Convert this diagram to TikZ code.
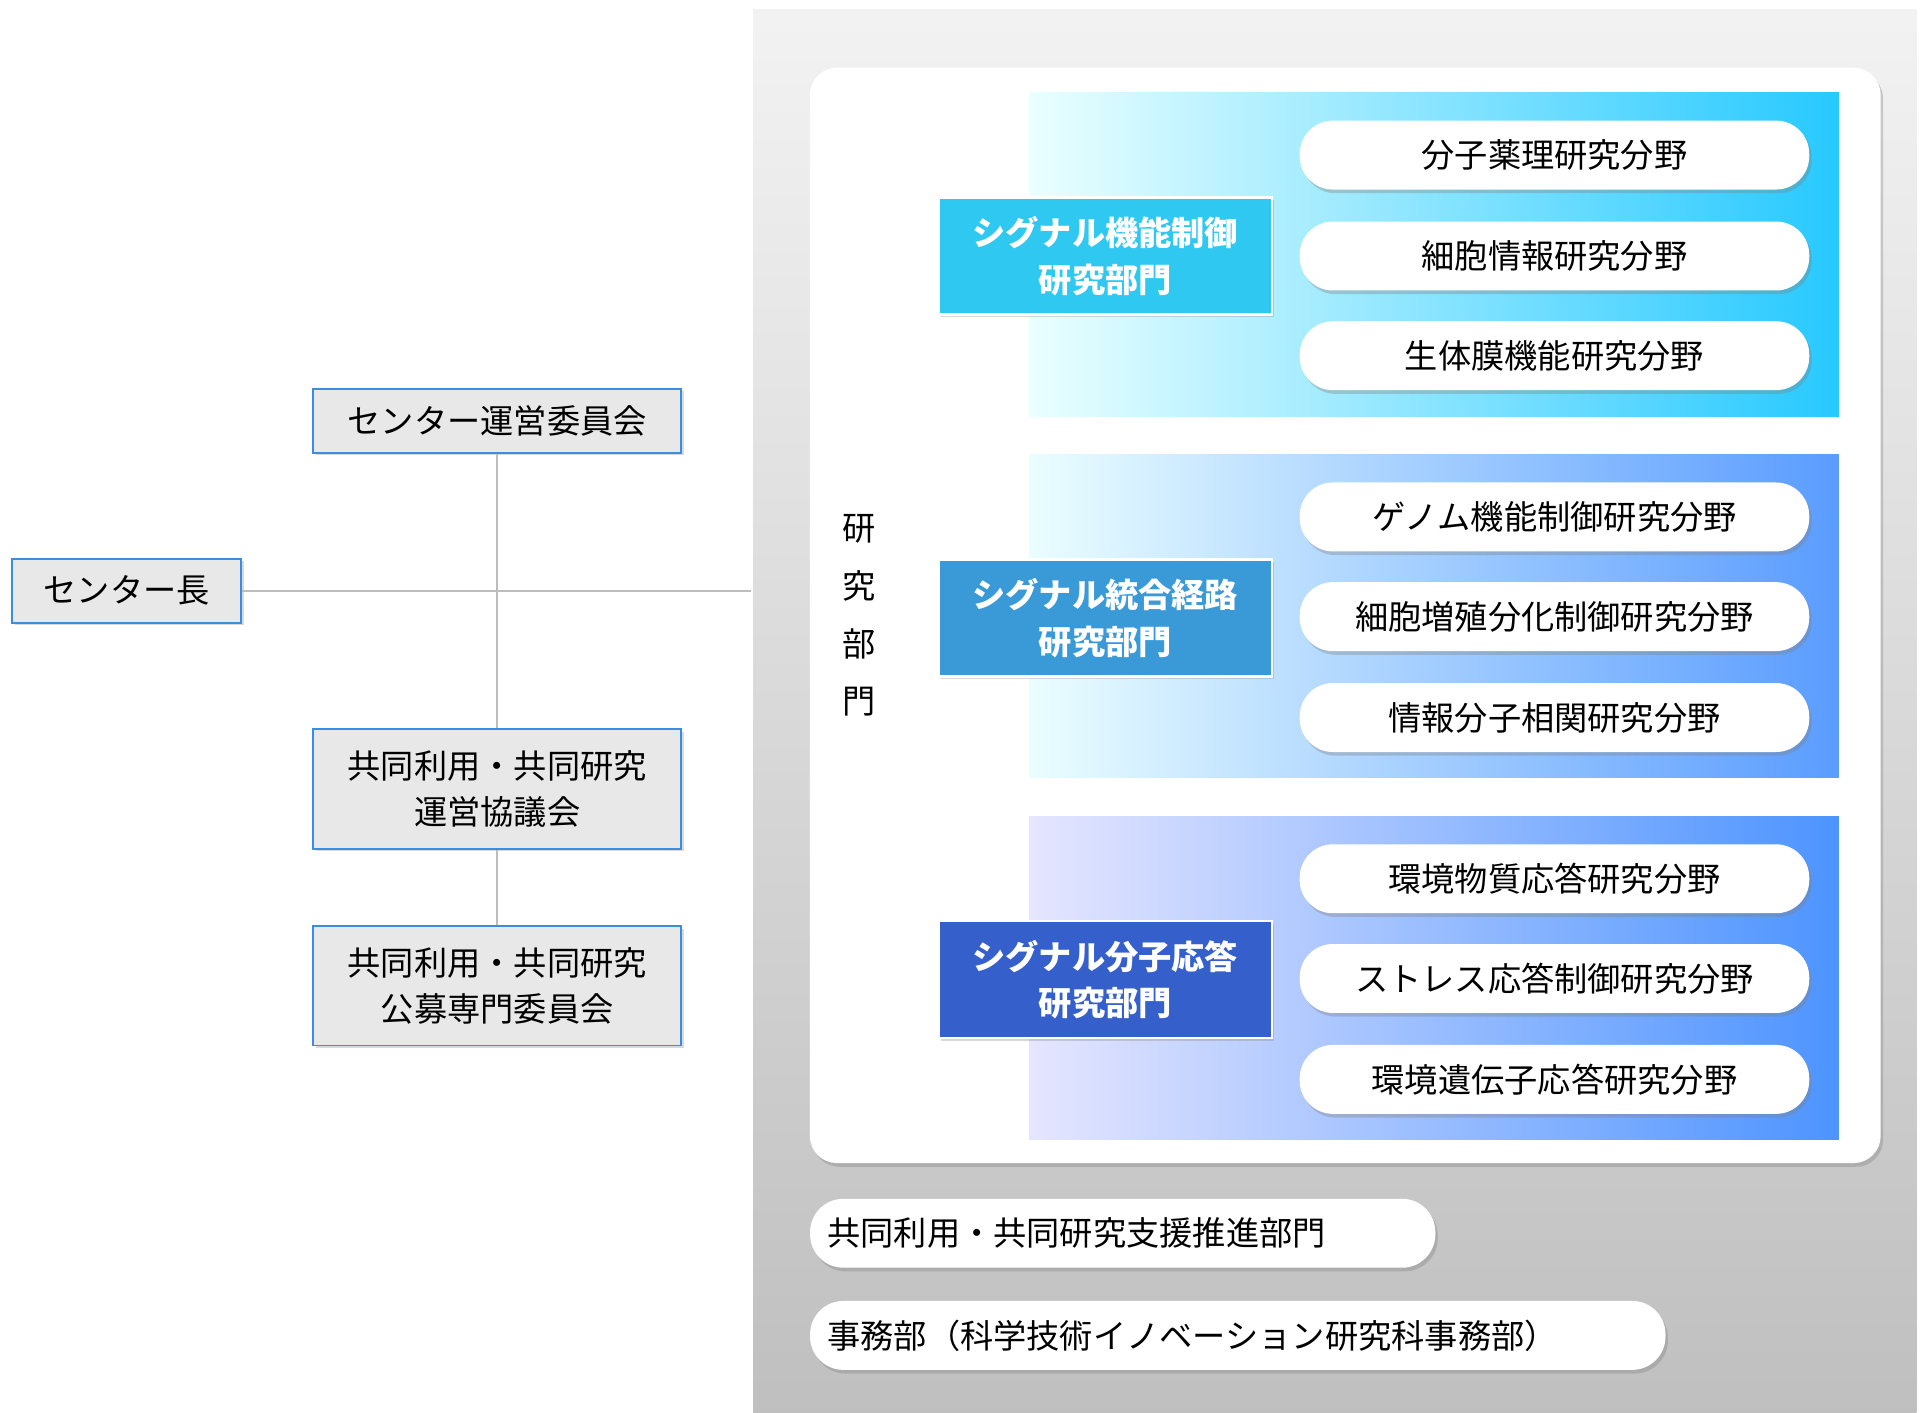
\documentclass[tikz,border=0pt]{standalone}
\usepackage{fontspec}
\setmainfont{Noto Sans CJK JP}
\usetikzlibrary{shadows}
\definecolor{lineg}{HTML}{BDBDBD}
\definecolor{bord}{HTML}{3A8EE0}
\tikzset{
 x=1pt,y=-1pt,
 leftbox/.style={draw=bord,line width=1.5pt,fill=gray!18,minimum width=299pt,font=\fontsize{27}{38}\selectfont,align=center,inner sep=0pt,drop shadow={shadow xshift=2pt,shadow yshift=-2pt,opacity=.3}},
 pill/.style={fill=white,rounded corners=27pt,minimum width=414pt,minimum height=56pt,font=\fontsize{27}{32}\selectfont,inner sep=0pt,drop shadow={shadow xshift=2pt,shadow yshift=-3pt,opacity=.35}},
 dept/.style={draw=white,line width=2pt,minimum width=271pt,minimum height=95pt,text=white,font=\bfseries\fontsize{27}{38}\selectfont,align=center,inner sep=0pt,drop shadow={shadow xshift=2pt,shadow yshift=-2pt,opacity=.3}},
 conn/.style={draw=lineg,line width=2pt}
}
\begin{document}
\begin{tikzpicture}
\useasboundingbox (0,0) rectangle (1560,1148);
\shade[top color=gray!10,bottom color=gray!50] (612,8) rectangle (1557,1148);
\node[fill=white,rounded corners=22pt,minimum width=870pt,minimum height=890pt,inner sep=0pt,drop shadow={shadow xshift=2pt,shadow yshift=-3pt,opacity=.35}] (panel) at (1093,500) {};
\shade[left color=cyan!8,right color=cyan!75!blue!85] (836,75) rectangle (1494,338);
\shade[left color=blue!5!cyan!8,right color=cyan!40!blue!65] (836,369) rectangle (1494,632);
\shade[left color=blue!10,right color=blue!60!cyan!70] (836,663) rectangle (1494,926);
\node[dept,fill={rgb,255:red,46;green,200;blue,240}] (d1) at (898,208) {シグナル機能制御\\研究部門};
\node[dept,fill={rgb,255:red,58;green,154;blue,216}] (d2) at (898,502) {シグナル統合経路\\研究部門};
\node[dept,fill={rgb,255:red,53;green,96;blue,204}] (d3) at (898,796) {シグナル分子応答\\研究部門};
\node[pill] (p1) at (1263,126) {分子薬理研究分野};
\node[pill] (p2) at (1263,208) {細胞情報研究分野};
\node[pill] (p3) at (1263,289) {生体膜機能研究分野};
\node[pill] (p4) at (1263,420) {ゲノム機能制御研究分野};
\node[pill] (p5) at (1263,501) {細胞増殖分化制御研究分野};
\node[pill] (p6) at (1263,583) {情報分子相関研究分野};
\node[pill] (p7) at (1263,714) {環境物質応答研究分野};
\node[pill] (p8) at (1263,795) {ストレス応答制御研究分野};
\node[pill] (p9) at (1263,877) {環境遺伝子応答研究分野};
\node[font=\fontsize{27}{47}\selectfont,align=center,inner sep=0pt] (v) at (698,500) {研\\究\\部\\門};
\node[pill,minimum width=508pt,anchor=west,align=left,text width=480pt,inner xsep=14pt] (s1) at (658,1002) {共同利用・共同研究支援推進部門};
\node[pill,minimum width=695pt,anchor=west,align=left,text width=667pt,inner xsep=14pt] (s2) at (658,1085) {事務部（科学技術イノベーション研究科事務部）};
\coordinate (edge) at (610,480);
\coordinate (j) at (406,480);
\node[leftbox,minimum width=186pt,minimum height=52pt] (ch) at (103,480) {センター長};
\node[leftbox,minimum height=52pt] (c1) at (404,342) {センター運営委員会};
\node[leftbox,minimum height=97pt] (c2) at (404,641) {共同利用・共同研究\\運営協議会};
\node[leftbox,minimum height=97pt] (c3) at (404,801) {共同利用・共同研究\\公募専門委員会};
\draw[conn] (ch.east) -- (edge);
\draw[conn] (c1.south) -- (c2.north);
\draw[conn] (c2.south) -- (c3.north);
\end{tikzpicture}
\end{document}
